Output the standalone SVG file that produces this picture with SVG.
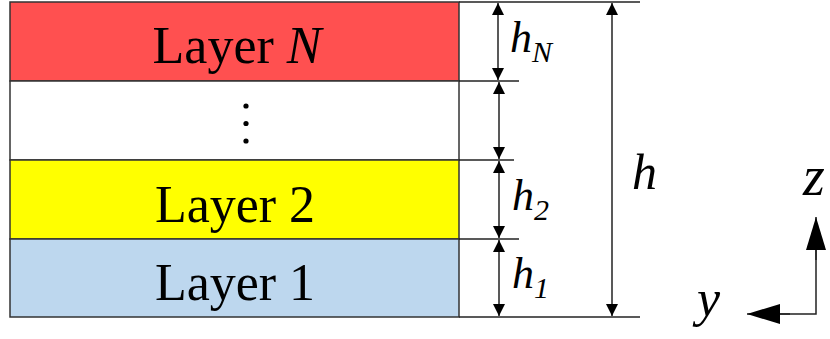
<svg xmlns="http://www.w3.org/2000/svg" width="830" height="339" viewBox="0 0 830 339">
<defs>
<marker id="a" viewBox="0 0 12 12" refX="12" refY="6" markerWidth="12" markerHeight="12" markerUnits="userSpaceOnUse" orient="auto-start-reverse"><path d="M0,0L12,6L0,12Z" fill="#000"/></marker>
<marker id="b" viewBox="0 0 33 20" refX="33" refY="10" markerWidth="33" markerHeight="20" markerUnits="userSpaceOnUse" orient="auto"><path d="M0,0L33,10L0,20Z" fill="#000"/></marker>
</defs>
<g id="layerN"><rect x="10" y="2" width="449" height="79" fill="#ff5050" stroke="#333" stroke-width="1.5"/><text x="237" y="63" style="font-family:'Times New Roman',Tinos,'Liberation Serif',serif;font-size:52px" text-anchor="middle">Layer <tspan style="font-style:italic">N</tspan></text></g>
<g id="layerDots"><rect x="10" y="81" width="449" height="79" fill="#fff" stroke="#333" stroke-width="1.5"/><circle cx="246" cy="106" r="2.6"/><circle cx="246" cy="123.5" r="2.6"/><circle cx="246" cy="141" r="2.6"/></g>
<g id="layer2"><rect x="10" y="160" width="449" height="79" fill="#ffff00" stroke="#333" stroke-width="1.5"/><text x="235" y="222" style="font-family:'Times New Roman',Tinos,'Liberation Serif',serif;font-size:52px" text-anchor="middle">Layer 2</text></g>
<g id="layer1"><rect x="10" y="239" width="449" height="78" fill="#bdd7ee" stroke="#333" stroke-width="1.5"/><text x="235" y="300" style="font-family:'Times New Roman',Tinos,'Liberation Serif',serif;font-size:52px" text-anchor="middle">Layer 1</text></g>
<g id="connectors" stroke="#222" stroke-width="1.5" fill="none">
<line x1="459" y1="2" x2="640" y2="2"/>
<line x1="459" y1="81" x2="519" y2="81"/>
<line x1="459" y1="160" x2="514" y2="160"/>
<line x1="459" y1="239" x2="519" y2="239"/>
<line x1="459" y1="317" x2="640" y2="317"/>
<line x1="498" y1="3" x2="498" y2="80" marker-start="url(#a)" marker-end="url(#a)"/>
<line x1="499" y1="82" x2="499" y2="159" marker-start="url(#a)" marker-end="url(#a)"/>
<line x1="499" y1="161" x2="499" y2="238" marker-start="url(#a)" marker-end="url(#a)"/>
<line x1="499" y1="240" x2="499" y2="316" marker-start="url(#a)" marker-end="url(#a)"/>
<line x1="612" y1="3" x2="612" y2="316" marker-start="url(#a)" marker-end="url(#a)"/>
<polyline points="816,240 816,314 780,314"/>
<line x1="816" y1="260" x2="816" y2="217" marker-end="url(#b)"/>
<line x1="790" y1="314" x2="747" y2="314" marker-end="url(#b)"/>
</g>
<g id="labels">
<text x="510" y="52" style="font-family:'Times New Roman',Tinos,'Liberation Serif',serif;font-style:italic;font-size:44px">h<tspan style="font-size:30px" dy="10">N</tspan></text>
<text x="512" y="210" style="font-family:'Times New Roman',Tinos,'Liberation Serif',serif;font-style:italic;font-size:44px">h<tspan style="font-size:30px" dy="10">2</tspan></text>
<text x="512" y="288" style="font-family:'Times New Roman',Tinos,'Liberation Serif',serif;font-style:italic;font-size:44px">h<tspan style="font-size:30px" dy="10">1</tspan></text>
<text x="632" y="189" style="font-family:'Times New Roman',Tinos,'Liberation Serif',serif;font-style:italic;font-size:50px">h</text>
<text x="803" y="195" style="font-family:'Times New Roman',Tinos,'Liberation Serif',serif;font-style:italic;font-size:56px">z</text>
<text x="697" y="316" style="font-family:'Times New Roman',Tinos,'Liberation Serif',serif;font-style:italic;font-size:52px">y</text>
</g>
</svg>
